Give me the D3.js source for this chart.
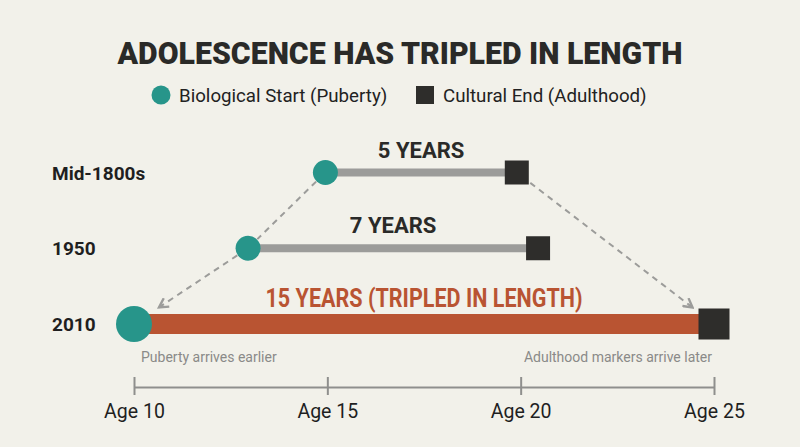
<!DOCTYPE html>
<html>
<head>
<meta charset="utf-8">
<script src="https://cdn.jsdelivr.net/npm/d3@7"></script>
<style>
  body { margin: 0; background: #f2f1ea; }
  svg { display: block; font-family: Roboto, "Liberation Sans", sans-serif; }
</style>
</head>
<body>
<div id="chart"></div>
<script>
/**
 * DATA
 * */
const periods = ["Mid-1800s", "1950", "2010"];
const startAges = [14.95, 12.95, 10];
const endAges = [19.9, 20.45, 25];
const spanLabels = ["5 YEARS", "7 YEARS", "15 YEARS (TRIPLED IN LENGTH)"];
const ageTicks = [10, 15, 20, 25];
const legendLabels = ["Biological Start (Puberty)", "Cultural End (Adulthood)"];
const noteLabels = ["Puberty arrives earlier", "Adulthood markers arrive later"];

/**
 * CONSTANTS
 * */
const width = 800,
  height = 447,
  teal = "#27958a",
  dark = "#2e2d2b",
  rust = "#b95432",
  grey = "#9c9c9a";

const rows = periods.map((p, i) => ({
  period: p,
  start: startAges[i],
  end: endAges[i],
  label: spanLabels[i],
  big: i === periods.length - 1
}));

const svg = d3.select("#chart")
  .append("svg")
  .attr("width", width)
  .attr("height", height);

svg.append("rect").attr("width", width).attr("height", height).attr("fill", "#f2f1ea");

// SCALES
const xScale = d3.scaleLinear().domain([10, 25]).range([134, 714]);
const yScale = d3.scalePoint().domain(periods).range([172.5, 324]);

// arrow marker (open chevron)
svg.append("defs")
  .append("marker")
  .attr("id", "arrow")
  .attr("viewBox", "0 0 12 12")
  .attr("refX", 10)
  .attr("refY", 6)
  .attr("markerWidth", 12)
  .attr("markerHeight", 12)
  .attr("markerUnits", "userSpaceOnUse")
  .attr("orient", "auto")
  .append("path")
  .attr("d", "M1,1 L10,6 L1,11")
  .attr("fill", "none")
  .attr("stroke", grey)
  .attr("stroke-width", 2.4);

// TITLE
svg.append("text")
  .attr("x", width / 2)
  .attr("y", 64)
  .attr("text-anchor", "middle")
  .attr("font-size", 32)
  .attr("font-weight", 900)
  .attr("fill", "#2a2a28")
  .attr("textLength", 565)
  .attr("lengthAdjust", "spacingAndGlyphs")
  .text("ADOLESCENCE HAS TRIPLED IN LENGTH");

// LEGEND
const legend = svg.append("g").attr("font-size", 18.7).attr("fill", "#222");
legend.append("circle").attr("cx", 161).attr("cy", 95).attr("r", 9.5).attr("fill", teal);
legend.append("text").attr("x", 179).attr("y", 101.5).text(legendLabels[0]);
legend.append("rect").attr("x", 416).attr("y", 86).attr("width", 18).attr("height", 18).attr("fill", dark);
legend.append("text").attr("x", 443).attr("y", 101.5).text(legendLabels[1]);

// DASHED CONNECTORS
function connector(a, b, gapA, gapB, arrow) {
  const dx = b[0] - a[0], dy = b[1] - a[1];
  const len = Math.hypot(dx, dy);
  const ux = dx / len, uy = dy / len;
  svg.append("line")
    .attr("x1", a[0] + ux * gapA)
    .attr("y1", a[1] + uy * gapA)
    .attr("x2", b[0] - ux * gapB)
    .attr("y2", b[1] - uy * gapB)
    .attr("stroke", grey)
    .attr("stroke-width", 2)
    .attr("stroke-dasharray", "6,5")
    .attr("marker-end", arrow ? "url(#arrow)" : null);
}
const startPt = r => [xScale(r.start), yScale(r.period)];
const endPt = r => [xScale(r.end), yScale(r.period)];
connector(startPt(rows[0]), startPt(rows[1]), 13, 13, false);
connector(startPt(rows[1]), startPt(rows[2]), 13, 30, true);
connector(endPt(rows[0]), endPt(rows[2]), 17, 27, true);

// ROWS
const row = svg.selectAll("g.row")
  .data(rows)
  .join("g")
  .attr("class", "row")
  .attr("transform", d => `translate(0,${yScale(d.period)})`);

row.append("text")
  .attr("x", 52)
  .attr("y", 7)
  .attr("font-size", 19)
  .attr("font-weight", 700)
  .attr("fill", "#1f1f1f")
  .text(d => d.period);

row.append("rect")
  .attr("x", d => xScale(d.start))
  .attr("y", d => d.big ? -10 : -4)
  .attr("width", d => xScale(d.end) - xScale(d.start))
  .attr("height", d => d.big ? 20 : 8)
  .attr("fill", d => d.big ? rust : grey);

row.append("rect")
  .attr("x", d => xScale(d.end) - (d.big ? 15.5 : 12))
  .attr("y", d => d.big ? -15.5 : -12)
  .attr("width", d => d.big ? 31 : 24)
  .attr("height", d => d.big ? 31 : 24)
  .attr("fill", dark);

row.append("circle")
  .attr("cx", d => xScale(d.start))
  .attr("cy", 0)
  .attr("r", d => d.big ? 18 : 12.5)
  .attr("fill", teal);

row.append("text")
  .attr("x", d => (xScale(d.start) + xScale(d.end)) / 2)
  .attr("y", d => d.big ? -17 : -15)
  .attr("text-anchor", "middle")
  .attr("font-size", d => d.big ? 25 : 22)
  .attr("font-weight", 700)
  .attr("fill", d => d.big ? rust : "#2a2a28")
  .attr("textLength", d => d.big ? 317 : null)
  .attr("lengthAdjust", "spacingAndGlyphs")
  .text(d => d.label);

// NOTES under the last row
const last = rows[rows.length - 1];
svg.append("text")
  .attr("x", xScale(last.start) + 7)
  .attr("y", 362)
  .attr("font-size", 14)
  .attr("fill", "#8a8a88")
  .text(noteLabels[0]);
svg.append("text")
  .attr("x", xScale(last.end) - 2)
  .attr("y", 362)
  .attr("text-anchor", "end")
  .attr("font-size", 14)
  .attr("fill", "#8a8a88")
  .text(noteLabels[1]);

// AXIS
const xAxis = d3.axisBottom(xScale)
  .tickValues(ageTicks)
  .tickFormat(d => "Age " + d)
  .tickSizeOuter(0);

const axisG = svg.append("g")
  .attr("class", "axis x-axis")
  .attr("transform", "translate(0,387)")
  .call(xAxis);

axisG.select(".domain").attr("stroke", "#8f8f8d").attr("stroke-width", 2);
axisG.selectAll(".tick line")
  .attr("y1", -10)
  .attr("y2", 8)
  .attr("stroke", "#8f8f8d")
  .attr("stroke-width", 2);
axisG.selectAll(".tick text")
  .attr("y", 31)
  .attr("dy", 0)
  .attr("font-size", 19.5)
  .attr("font-family", "Roboto, sans-serif")
  .attr("fill", "#1f1f1f");
</script>
</body>
</html>
